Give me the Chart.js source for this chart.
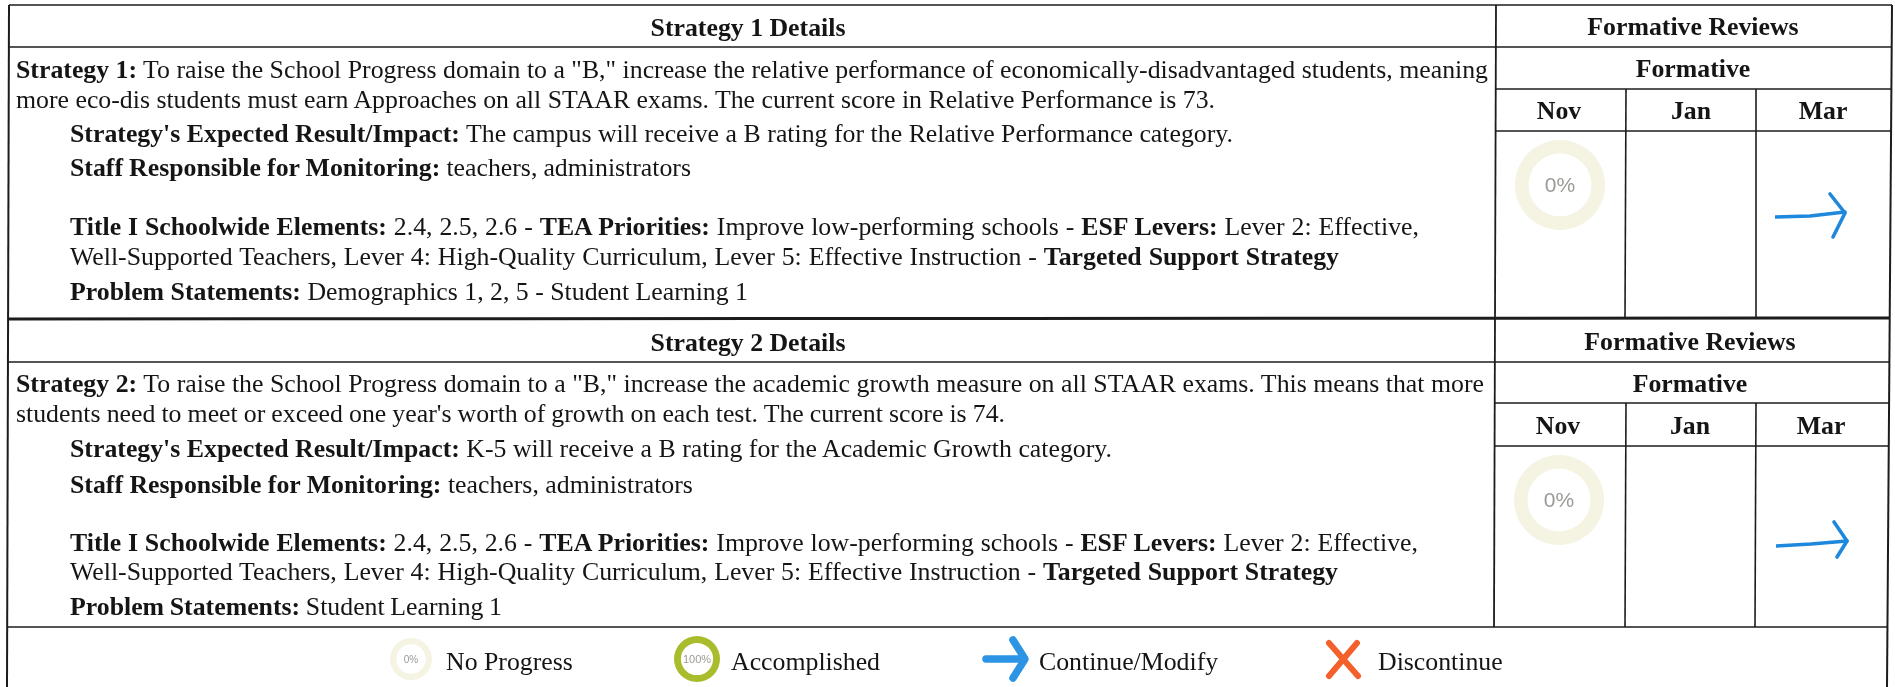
<!DOCTYPE html>
<html><head><meta charset="utf-8">
<script src="https://cdn.jsdelivr.net/npm/chart.js@4"></script>
<style>
html,body{margin:0;padding:0;background:#fff;width:1895px;height:687px;overflow:hidden}
#page{position:absolute;left:0;top:0;width:1895px;height:687px;font-family:"Liberation Serif",serif;color:#151515;filter:blur(.35px)}
.t{position:absolute;white-space:nowrap;font-size:25.8px;line-height:30px;transform:translateY(-50%)}
.c{transform:translate(-50%,-50%);font-weight:bold}
.g{position:absolute;font-family:"Liberation Sans",sans-serif;color:#9a9a96;transform:translate(-50%,-50%);white-space:nowrap}
canvas{position:absolute}
svg{position:absolute;left:0;top:0}
</style></head><body><div id="page">
<svg id="grid" width="1895" height="687"></svg>
</div>
<script>
// ---- data ----
const strategyHeaders = ["Strategy 1 Details","Strategy 2 Details"];
const reviewHeader = "Formative Reviews";
const formativeHeader = "Formative";
const months = ["Nov","Jan","Mar"];
const legendLabels = ["No Progress","Accomplished","Continue/Modify","Discontinue"];
const noProgress = [0,100];
const accomplished = [100,0];
const gaugeColors = ["#a9bd2c","#f5f3e2"];
// hand-drawn arrows, in units of each small chart
const arrow1Shaft = [[0,33],[35,32],[70,28]];
const arrow1Head = [[55,10],[70,29],[58,53]];
const arrow2Shaft = [[0,34],[35,32],[71,29]];
const arrow2Head = [[58,10],[71,29],[61,45]];
const legendArrowShaft = [[11,27],[48,27]];
const legendArrowHead = [[38,8],[50,27],[38,46]];
const crossA = [[9,9],[38,42]];
const crossB = [[37,9],[9,42]];
const s1Text = [
 [["b","Strategy 1:"],["","To raise the School Progress domain to a \"B,\" increase the relative performance of economically-disadvantaged students, meaning"]],
 [["","more eco-dis students must earn Approaches on all STAAR exams. The current score in Relative Performance is 73."]],
 [["b","Strategy's Expected Result/Impact:"],["","The campus will receive a B rating for the Relative Performance category."]],
 [["b","Staff Responsible for Monitoring:"],["","teachers, administrators"]],
 [["b","Title I Schoolwide Elements:"],["","2.4, 2.5, 2.6 - "],["b","TEA Priorities:"],["","Improve low-performing schools - "],["b","ESF Levers:"],["","Lever 2: Effective,"]],
 [["","Well-Supported Teachers, Lever 4: High-Quality Curriculum, Lever 5: Effective Instruction - "],["b","Targeted Support Strategy"]],
 [["b","Problem Statements:"],["","Demographics 1, 2, 5 - Student Learning 1"]]
];
const s2Text = [
 [["b","Strategy 2:"],["","To raise the School Progress domain to a \"B,\" increase the academic growth measure on all STAAR exams. This means that more"]],
 [["","students need to meet or exceed one year's worth of growth on each test. The current score is 74."]],
 [["b","Strategy's Expected Result/Impact:"],["","K-5 will receive a B rating for the Academic Growth category."]],
 [["b","Staff Responsible for Monitoring:"],["","teachers, administrators"]],
 [["b","Title I Schoolwide Elements:"],["","2.4, 2.5, 2.6 - "],["b","TEA Priorities:"],["","Improve low-performing schools - "],["b","ESF Levers:"],["","Lever 2: Effective,"]],
 [["","Well-Supported Teachers, Lever 4: High-Quality Curriculum, Lever 5: Effective Instruction - "],["b","Targeted Support Strategy"]],
 [["b","Problem Statements:"],["","Student Learning 1"]]
];

// ---- layout ----
const lineLeft = [16,16,70,70,70,70,70];
const s1Y = [70,100,134,168,227,257,292];
const s2Y = [384,414,449,485,543,572,607];
const s1Right = [1488,1215,1233,691,1419,1339,null];
const s2Right = [1484,1005,1112,null,1418,1338,502];

const page = document.getElementById('page');
const grid = document.getElementById('grid');
function ln(x1,y1,x2,y2,w){
  const l=document.createElementNS('http://www.w3.org/2000/svg','line');
  l.setAttribute('x1',x1);l.setAttribute('y1',y1);l.setAttribute('x2',x2);l.setAttribute('y2',y2);
  l.setAttribute('stroke','#1c1c1c');l.setAttribute('stroke-width',w||1.6);grid.appendChild(l);
}
ln(9,5,1892,5,1.6); ln(9,5,7,687,2); ln(1892,5,1887,687,2);
ln(9,47,1892,47,1.6); ln(1496,89,1892,89,1.4); ln(1496,131,1892,131,1.4);
ln(8,319,1890,318,3);
ln(8,362,1889,362,1.6); ln(1494,403,1889,403,1.4); ln(1494,446,1889,446,1.4);
ln(8,627,1888,627,1.6);
ln(1496,5,1494,627,1.8);
ln(1626,89,1625,318,1.6); ln(1756,89,1756,318,1.6);
ln(1626,403,1625,627,1.6); ln(1756,403,1755,627,1.6);

function add(x,y,html,cls,st){const d=document.createElement('div');d.className=cls;d.style.left=x+'px';d.style.top=y+'px';d.innerHTML=html;if(st)Object.assign(d.style,st);page.appendChild(d);return d;}
function rich(parts){return parts.map(([k,s])=>k==='b'?'<b>'+s+'</b>':s).join(' ').replace(/ +/g,' ');}
function placeLines(text,ys,rights){
  text.forEach((parts,i)=>{
    const d=add(lineLeft[i],ys[i],rich(parts),'t');
    if(rights[i]!==null){
      const spaces=(d.textContent.match(/ /g)||[]).length;
      const w=d.getBoundingClientRect().width;
      d.style.wordSpacing=((rights[i]-lineLeft[i]-w)/spaces)+'px';
    }
  });
}
placeLines(s1Text,s1Y,s1Right);
placeLines(s2Text,s2Y,s2Right);
add(748,28,strategyHeaders[0],'t c');
add(748,343,strategyHeaders[1],'t c');
add(1693,27,reviewHeader,'t c'); add(1690,342,reviewHeader,'t c');
add(1693,69,formativeHeader,'t c'); add(1690,384,formativeHeader,'t c');
[1559,1691,1823].forEach((x,i)=>add(x,111,months[i],'t c'));
[1558,1690,1821].forEach((x,i)=>add(x,426,months[i],'t c'));
[446,731,1039,1378].forEach((x,i)=>add(x,662,legendLabels[i],'t'));

function canvas(x,y,w,h){const c=document.createElement('canvas');c.style.left=x+'px';c.style.top=y+'px';c.style.width=w+'px';c.style.height=h+'px';c.width=w;c.height=h;page.appendChild(c);return c;}
function gauge(cx,cy,r,vals,label,fs,cut){
  const c=canvas(cx-r,cy-r,2*r,2*r);
  new Chart(c,{type:'doughnut',data:{labels:['done','left'],datasets:[{data:vals,backgroundColor:gaugeColors,borderWidth:0}]},
   options:{responsive:false,animation:false,cutout:cut,plugins:{legend:{display:false},tooltip:{enabled:false}},layout:{padding:0}}});
  add(cx,cy,label,'g',{fontSize:fs+'px'});
}
gauge(1560,185,45,noProgress,'0%',21,'70%');
gauge(1559,500,45,noProgress,'0%',21,'70%');
gauge(411,659,21,noProgress,'0%',10,'70%');
gauge(697,659,23,accomplished,'100%',11,'70%');

function marks(x,y,w,h,paths,color,width){
  const c=canvas(x,y,w,h);
  new Chart(c,{type:'scatter',data:{datasets:paths.map(p=>({data:p.map(q=>({x:q[0],y:q[1]})),showLine:true,borderColor:color,borderWidth:width,pointRadius:0,tension:0,borderCapStyle:'round',borderJoinStyle:'round'}))},
   options:{responsive:false,animation:false,layout:{padding:0},plugins:{legend:{display:false},tooltip:{enabled:false}},
    scales:{x:{type:'linear',display:false,min:0,max:w},y:{type:'linear',display:false,min:0,max:h,reverse:true}}}});
}
marks(1775,184,80,60,[arrow1Shaft,arrow1Head],'#1e88dc',3.6);
marks(1776,512,80,60,[arrow2Shaft,arrow2Head],'#1e88dc',3.6);
marks(975,632,60,55,[legendArrowShaft,legendArrowHead],'#2b94e4',7.5);
marks(1320,634,46,54,[crossA,crossB],'#f4602b',6);
</script></body></html>
